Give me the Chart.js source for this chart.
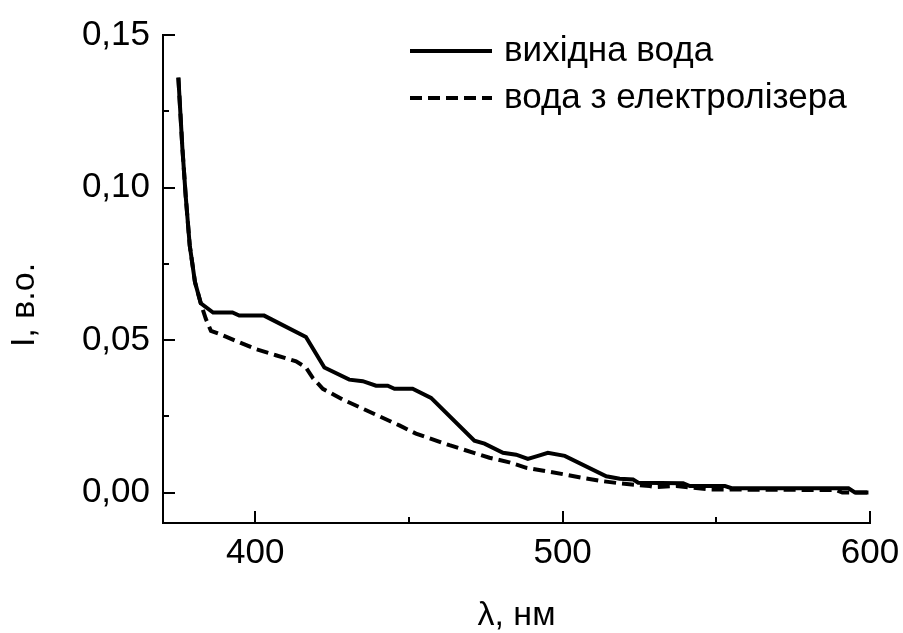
<!DOCTYPE html>
<html>
<head>
<meta charset="utf-8">
<script src="https://cdn.jsdelivr.net/npm/chart.js@4/dist/chart.umd.min.js"></script>
<style>
  html, body { margin: 0; padding: 0; background: #fff; }
  canvas { display: block; }
</style>
</head>
<body>
<canvas id="chart" width="903" height="633"></canvas>
<script>
// wavelengths (nm) and intensities
const sourceX = [375, 376.3, 377.4, 378.7, 380.4, 382.3, 386.3, 392.6, 394.8, 402.9, 416.5, 422.5, 430.6, 435, 439.3, 443.1, 445.3, 451.2, 457.2, 471.3, 474.6, 480.6, 484.9, 488.7, 492, 495.2, 500.7, 514.2, 518.6, 522.9, 524.6, 539.2, 541.4, 552.8, 555, 593, 595.1, 599.5];
const sourceY = [0.136, 0.113, 0.097, 0.081, 0.069, 0.062, 0.059, 0.059, 0.058, 0.058, 0.051, 0.041, 0.037, 0.0365, 0.035, 0.035, 0.034, 0.034, 0.031, 0.017, 0.016, 0.013, 0.0124, 0.011, 0.012, 0.013, 0.012, 0.0053, 0.0045, 0.0043, 0.0032, 0.003, 0.0021, 0.0021, 0.0014, 0.0014, 0.0, 0.0];

const electroX = [375, 376.3, 377.4, 378.7, 380.4, 382.3, 383.9, 385.6, 388.3, 400.2, 406.7, 413.3, 416.5, 418.7, 422, 428.4, 440.4, 446.9, 452.3, 463.2, 476.2, 482.7, 488.2, 494.7, 500.7, 506.6, 513.1, 518.6, 528.3, 530, 537, 547.9, 589, 591, 599.5];
const electroY = [0.136, 0.113, 0.097, 0.081, 0.069, 0.062, 0.057, 0.053, 0.052, 0.047, 0.045, 0.043, 0.041, 0.0376, 0.034, 0.0305, 0.025, 0.022, 0.0193, 0.0155, 0.0114, 0.0099, 0.0081, 0.007, 0.0059, 0.0048, 0.0037, 0.003, 0.0021, 0.0018, 0.0021, 0.001, 0.0008, 0.0, 0.0];

const seriesLabels = ['вихідна вода', 'вода з електролізера'];
const xTicks = [400, 500, 600];
const xMinorTicks = [450, 550];
const yTicks = [0, 0.05, 0.10, 0.15];
const yMinorTicks = [0.025, 0.075, 0.125];
const yTitle = 'I, в.о.';

const FONT = "'Liberation Sans', Arial, sans-serif";

const toPoints = (xs, ys) => xs.map((x, i) => ({ x: x, y: ys[i] }));

// inward tick marks, y title and legend drawn on top
const axisExtras = {
  id: 'axisExtras',
  afterDraw(chart) {
    const ctx = chart.ctx;
    const xs = chart.scales.x;
    const ys = chart.scales.y;
    const area = chart.chartArea;
    ctx.save();
    ctx.strokeStyle = '#000';
    ctx.lineWidth = 2;
    ctx.beginPath();
    xTicks.forEach(v => {
      const px = Math.round(xs.getPixelForValue(v));
      ctx.moveTo(px, area.bottom); ctx.lineTo(px, area.bottom - 12);
    });
    xMinorTicks.forEach(v => {
      const px = Math.round(xs.getPixelForValue(v));
      ctx.moveTo(px, area.bottom); ctx.lineTo(px, area.bottom - 6);
    });
    yTicks.forEach(v => {
      const py = Math.round(ys.getPixelForValue(v));
      ctx.moveTo(area.left, py); ctx.lineTo(area.left + 12, py);
    });
    yMinorTicks.forEach(v => {
      const py = Math.round(ys.getPixelForValue(v));
      ctx.moveTo(area.left, py); ctx.lineTo(area.left + 6, py);
    });
    ctx.stroke();

    // y axis title, sits a bit below the middle of the axis
    ctx.save();
    ctx.translate(25, 305);
    ctx.rotate(-Math.PI / 2);
    ctx.fillStyle = '#000';
    ctx.font = '34px ' + FONT;
    ctx.textAlign = 'center';
    ctx.textBaseline = 'middle';
    ctx.fillText(yTitle, 0, 0);
    ctx.restore();

    // legend
    const rows = [51, 98];
    chart.data.datasets.forEach((ds, i) => {
      const y = rows[i];
      ctx.beginPath();
      ctx.lineWidth = ds.borderWidth;
      ctx.setLineDash(ds.borderDash || []);
      ctx.moveTo(410, y);
      ctx.lineTo(492, y);
      ctx.stroke();
      ctx.setLineDash([]);
      ctx.fillStyle = '#000';
      ctx.font = '35px ' + FONT;
      ctx.textAlign = 'left';
      ctx.textBaseline = 'middle';
      ctx.fillText(ds.label, 504, y);
    });
    ctx.restore();
  }
};

new Chart(document.getElementById('chart').getContext('2d'), {
  type: 'line',
  data: {
    datasets: [
      {
        label: seriesLabels[0],
        data: toPoints(sourceX, sourceY),
        borderColor: '#000',
        borderWidth: 4,
        pointRadius: 0,
        tension: 0,
        fill: false
      },
      {
        label: seriesLabels[1],
        data: toPoints(electroX, electroY),
        borderColor: '#000',
        borderWidth: 4,
        borderDash: [12, 6],
        pointRadius: 0,
        tension: 0,
        fill: false
      }
    ]
  },
  options: {
    responsive: false,
    devicePixelRatio: 1,
    animation: false,
    layout: { padding: { top: 35, right: 33, left: 0, bottom: 0 } },
    plugins: {
      legend: { display: false },
      tooltip: { enabled: false }
    },
    scales: {
      x: {
        type: 'linear',
        min: 370,
        max: 600,
        grid: { display: false, drawTicks: false },
        border: { display: true, color: '#000', width: 2 },
        afterBuildTicks: s => { s.ticks = xTicks.map(v => ({ value: v })); },
        afterFit: s => { s.height = 110; s.paddingLeft = 0; s.paddingRight = 0; },
        ticks: {
          color: '#000',
          padding: 9,
          maxRotation: 0,
          font: { family: FONT, size: 35 }
        },
        title: {
          display: true,
          text: 'λ, нм',
          color: '#000',
          padding: 0,
          font: { family: FONT, size: 34, lineHeight: 1 }
        }
      },
      y: {
        type: 'linear',
        min: -0.01,
        max: 0.15,
        grid: { display: false, drawTicks: false },
        border: { display: true, color: '#000', width: 2 },
        afterBuildTicks: s => { s.ticks = yTicks.map(v => ({ value: v })); },
        afterFit: s => { s.width = 163; s.paddingTop = 0; s.paddingBottom = 0; },
        ticks: {
          color: '#000',
          padding: 13,
          font: { family: FONT, size: 35 },
          callback: v => v.toFixed(2).replace('.', ',')
        }
      }
    }
  },
  plugins: [axisExtras]
});
</script>
</body>
</html>
